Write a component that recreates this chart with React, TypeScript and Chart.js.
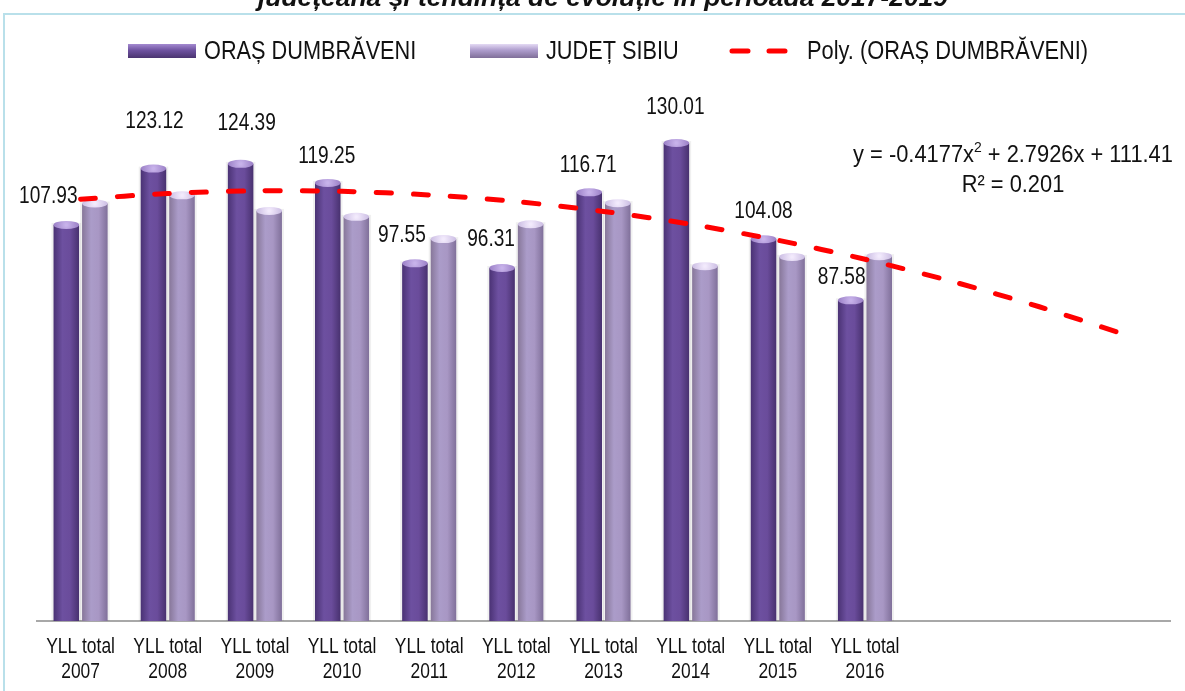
import React, { useEffect, useRef } from "react";
import { Chart, registerables } from "chart.js";

Chart.register(...registerables);

// ---- data ----
const yearLabels: string[] = ["2007", "2008", "2009", "2010", "2011", "2012", "2013", "2014", "2015", "2016", "", "", ""];
const tickPrefix = "YLL total";
const orasDumbraveni: number[] = [107.93, 123.12, 124.39, 119.25, 97.55, 96.31, 116.71, 130.01, 104.08, 87.58];
const judetSibiu: number[] = [113.7, 115.9, 111.7, 110.1, 104.1, 108.1, 113.8, 96.8, 99.3, 99.5];
// polynomial trendline read at each category (incl. 3 forecast periods)
const polyTrend: number[] = [113.79, 115.32, 116.03, 115.9, 114.93, 113.13, 110.49, 107.02, 102.71, 97.57, 91.59, 84.77, 77.12];
const seriesNames: string[] = ["ORAȘ DUMBRĂVENI", "JUDEȚ SIBIU", "Poly. (ORAȘ DUMBRĂVENI)"];
const eqLeft = "y = -0.4177x";
const eqSup = "2";
const eqRight = " + 2.7926x + 111.41";
const r2Text = "R² = 0.201";
const titleText = "județeana și tendința de evoluție în perioada 2017-2019";

// label nudges (layout only): offset of value label centre from bar-top centre
const labelNudges: number[][] = [[-18, -24], [1, -43], [6, -36], [-1, -22], [-13, -24], [-11, -24], [-1, -23], [-1, -31], [0, -24], [-9, -19]];

const FONT = '"Liberation Sans", Arial, sans-serif';
const SX = 0.81;

function drawText(ctx: CanvasRenderingContext2D, text: string, x: number, y: number, size: number, opts: any = {}) {
  const align = opts.align || "center";
  const sx = opts.sx ?? SX;
  ctx.save();
  ctx.font = `${opts.style || ""} ${opts.weight || ""} ${size}px ${FONT}`;
  ctx.textBaseline = opts.baseline || "middle";
  ctx.fillStyle = opts.color || "#111";
  const w = ctx.measureText(text).width * sx;
  const left = align === "center" ? x - w / 2 : align === "right" ? x - w : x;
  ctx.translate(left, y);
  ctx.scale(sx, 1);
  ctx.textAlign = "left";
  ctx.fillText(text, 0, 0);
  ctx.restore();
  return w;
}

function measure(ctx: CanvasRenderingContext2D, text: string, size: number, sx = SX) {
  ctx.save();
  ctx.font = `${size}px ${FONT}`;
  const w = ctx.measureText(text).width * sx;
  ctx.restore();
  return w;
}

const palettes = [
  { body: ["#4a3274", "#6d50a0", "#6a4c9b", "#48316f"], cap: ["#c7b2ea", "#9a7fc6"], legend: ["#a48ad0", "#6e52a0", "#4a3470"] },
  { body: ["#877799", "#ab9cc9", "#a897c4", "#80709a"], cap: ["#f2eafc", "#cbbde3"], legend: ["#e4daf4", "#ad9ccc", "#7f6e98"] },
];

const barPainter = {
  id: "barPainter",
  beforeDatasetDraw(chart: any, args: any) {
    const meta = args.meta;
    if (meta.type !== "bar") return;
    const ctx: CanvasRenderingContext2D = chart.ctx;
    const pal = palettes[args.index];
    ctx.save();
    meta.data.forEach((el: any) => {
      const { x, y, base, width } = el.getProps(["x", "y", "base", "width"], true);
      const l = x - width / 2;
      const capH = 8;
      ctx.fillStyle = "rgba(0,0,0,0.06)";
      ctx.fillRect(l - 2, y + 2, width + 4, base - y - 2);
      const g = ctx.createLinearGradient(l, 0, l + width, 0);
      g.addColorStop(0, pal.body[0]);
      g.addColorStop(0.35, pal.body[1]);
      g.addColorStop(0.65, pal.body[2]);
      g.addColorStop(1, pal.body[3]);
      ctx.fillStyle = g;
      ctx.fillRect(l, y + capH / 2, width, base - y - capH / 2);
      const cg = ctx.createRadialGradient(x, y + capH / 2, 1, x, y + capH / 2, width / 2);
      cg.addColorStop(0, pal.cap[0]);
      cg.addColorStop(1, pal.cap[1]);
      ctx.fillStyle = cg;
      ctx.beginPath();
      ctx.ellipse(x, y + capH / 2, width / 2, capH / 2, 0, 0, Math.PI * 2);
      ctx.fill();
    });
    ctx.restore();
    return false;
  },
};

const decorations = {
  id: "decorations",
  beforeDraw(chart: any) {
    const ctx: CanvasRenderingContext2D = chart.ctx;
    ctx.save();
    ctx.fillStyle = "#ffffff";
    ctx.fillRect(0, 0, chart.width, chart.height);
    ctx.strokeStyle = "#b9e0ea";
    ctx.lineWidth = 2;
    ctx.beginPath();
    ctx.moveTo(4, chart.height);
    ctx.lineTo(4, 14);
    ctx.lineTo(chart.width, 14);
    ctx.stroke();
    ctx.restore();
  },
  afterDraw(chart: any) {
    const ctx: CanvasRenderingContext2D = chart.ctx;
    // title (cut at top)
    ctx.save();
    ctx.font = `italic bold 26px ${FONT}`;
    const tw = ctx.measureText(titleText).width;
    const tsx = 690 / tw;
    ctx.restore();
    drawText(ctx, titleText, 603, 6, 26, { style: "italic", weight: "bold", sx: tsx, baseline: "alphabetic" });

    // legend
    const ly = 51;
    for (let i = 0; i < 2; i++) {
      const sxp = i === 0 ? 128 : 470;
      const pal = palettes[i];
      const g = ctx.createLinearGradient(0, ly - 7, 0, ly + 7);
      g.addColorStop(0, pal.legend[0]);
      g.addColorStop(0.45, pal.legend[1]);
      g.addColorStop(1, pal.legend[2]);
      ctx.fillStyle = g;
      ctx.fillRect(sxp, ly - 7, 68, 14);
      drawText(ctx, seriesNames[i], i === 0 ? 204 : 546, ly + 1, 26, { align: "left", sx: 0.835 });
    }
    ctx.save();
    ctx.strokeStyle = "#ff0000";
    ctx.lineWidth = 5;
    ctx.lineCap = "round";
    ctx.beginPath();
    ctx.moveTo(732, ly);
    ctx.lineTo(748, ly);
    ctx.moveTo(769, ly);
    ctx.lineTo(785, ly);
    ctx.stroke();
    ctx.restore();
    drawText(ctx, seriesNames[2], 807, ly + 1, 26, { align: "left", sx: 0.84 });

    // x tick labels
    const xs = chart.scales.x;
    const bottom = chart.chartArea.bottom;
    yearLabels.forEach((yr, i) => {
      if (!yr) return;
      const px = xs.getPixelForTick(i);
      drawText(ctx, tickPrefix, px, bottom + 26, 21.5);
      drawText(ctx, yr, px, bottom + 51, 21.5);
    });

    // value labels for ORAȘ DUMBRĂVENI
    const meta = chart.getDatasetMeta(0);
    meta.data.forEach((el: any, i: number) => {
      const n = labelNudges[i] || [0, -25];
      drawText(ctx, orasDumbraveni[i].toFixed(2), el.x + n[0], el.y + n[1], 23, { sx: 0.83 });
    });

    // trendline equation
    const cx = 1013;
    const esx = 0.93;
    const w1 = measure(ctx, eqLeft, 23.5, esx);
    const w2 = measure(ctx, eqSup, 15, esx);
    const w3 = measure(ctx, eqRight, 23.5, esx);
    const start = cx - (w1 + w2 + w3) / 2;
    drawText(ctx, eqLeft, start, 156, 23.5, { align: "left", sx: esx });
    drawText(ctx, eqSup, start + w1, 148, 15, { align: "left", sx: esx });
    drawText(ctx, eqRight, start + w1 + w2, 156, 23.5, { align: "left", sx: esx });
    drawText(ctx, r2Text, cx, 186, 23.5, { sx: esx });
  },
};

export default function App() {
  const ref = useRef<HTMLCanvasElement | null>(null);
  useEffect(() => {
    if (!ref.current) return;
    const chart = new Chart(ref.current, {
      type: "bar",
      data: {
        labels: yearLabels,
        datasets: [
          { type: "bar", label: seriesNames[0], data: orasDumbraveni, backgroundColor: "#6a4c9b", order: 1 } as any,
          { type: "bar", label: seriesNames[1], data: judetSibiu, backgroundColor: "#a898c5", order: 1 } as any,
          {
            type: "line",
            label: seriesNames[2],
            data: polyTrend,
            borderColor: "#ff0000",
            borderWidth: 5,
            borderDash: [15, 22],
            borderCapStyle: "round",
            pointRadius: 0,
            tension: 0.3,
            fill: false,
            order: 0,
          } as any,
        ],
      },
      options: {
        responsive: false,
        animation: false,
        devicePixelRatio: 1,
        layout: { padding: { top: 102, left: 37, right: 15, bottom: 70 } },
        datasets: { bar: { categoryPercentage: 0.655, barPercentage: 0.895 } } as any,
        plugins: { legend: { display: false }, tooltip: { enabled: false }, title: { display: false } },
        scales: {
          x: {
            offset: true,
            grid: { display: false },
            ticks: { display: false },
            border: { display: true, color: "#a8a8a8", width: 2 },
            afterFit: (s: any) => { s.height = 0; },
          },
          y: { display: false, min: 0, max: 140 },
        },
      },
      plugins: [decorations, barPainter],
    });
    return () => chart.destroy();
  }, []);
  return (
    <div style={{ position: "fixed", left: 0, top: 0, width: 1185, height: 691, background: "#fff" }}>
      <canvas ref={ref} width={1185} height={691} style={{ display: "block", width: 1185, height: 691 }} />
    </div>
  );
}
